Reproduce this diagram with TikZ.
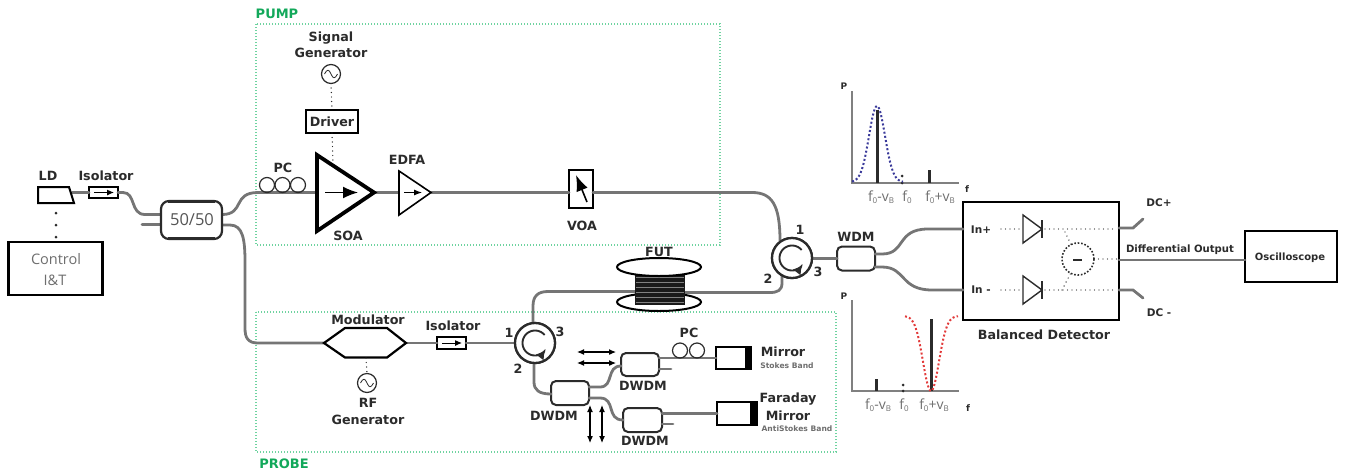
\documentclass[tikz,border=0pt]{standalone}
\usepackage{fontspec}
\setmainfont{DejaVu Sans}
\newfontfamily\lightfont{Open Sans}
\usetikzlibrary{arrows.meta,calc}
\definecolor{ink}{HTML}{2B2B2B}
\definecolor{fibre}{HTML}{757575}
\definecolor{greenbox}{HTML}{6FD3A0}
\definecolor{greenlab}{HTML}{12A85A}
\definecolor{axisgray}{HTML}{808080}
\definecolor{labgray}{HTML}{6E6E6E}
\definecolor{bluedots}{HTML}{3A3A9A}
\definecolor{reddots}{HTML}{E23A3A}
\newcommand{\sbs}[1]{\raisebox{-.35ex}{\fontsize{8}{8}\selectfont #1}}
\tikzset{
  x=1pt,y=-1pt,
  fib/.style={draw=fibre,line width=2.8pt,line cap=round},
  lab/.style={font=\bfseries\fontsize{12.7}{15}\selectfont,text=ink,inner sep=0pt,align=center},
  tinylab/.style={font=\bfseries\fontsize{7.6}{8}\selectfont,text=labgray,inner sep=0pt},
  grouplab/.style={font=\bfseries\fontsize{13}{14}\selectfont,text=greenlab,inner sep=0pt},
  grp/.style={draw=greenbox,line width=1.2pt,dash pattern=on 1.2pt off 1.8pt},
  box/.style={draw=black,line width=2.3pt,fill=white,inner sep=0pt,outer sep=0pt,rectangle},
  isobox/.style={box,minimum width=29pt,minimum height=11.5pt},
  coupler/.style={draw=ink,line width=2pt,fill=white,rounded corners=5pt,inner sep=0pt,outer sep=0pt,rectangle,minimum width=38pt,minimum height=24pt},
  pcloop/.style={circle,draw=ink,line width=1.2pt,inner sep=0pt,outer sep=0pt,minimum size=15pt},
  gen/.style={circle,draw=ink,line width=1.2pt,inner sep=0pt,outer sep=0pt,minimum size=19pt,fill=white},
  circulator/.style={circle,draw=ink,line width=2.3pt,fill=white,inner sep=0pt,outer sep=0pt,minimum size=40pt},
  ctrl/.style={draw=ink,line width=1.4pt,line cap=round,dash pattern=on 0pt off 4.5pt},
  biarrow/.style={draw=black,line width=1.1pt,{Latex[length=7pt,width=6pt]}-{Latex[length=7pt,width=6pt]}},
  axisline/.style={draw=axisgray,line width=1.5pt},
  tick/.style={draw=ink,line width=3pt},
  freq/.style={font=\lightfont\fontsize{14}{15}\selectfont,text=labgray,inner sep=0pt},
  axlab/.style={lab,font=\bfseries\fontsize{9}{10}\selectfont},
}
\begin{document}
\begin{tikzpicture}
\useasboundingbox (0,0) rectangle (1346,472);
% group frames
\node[grouplab] (pumplab) at (277,14) {PUMP};
\node[grouplab] (probelab) at (284,464) {PROBE};
\draw[grp] (256,24) rectangle (720,245);
\draw[grp] (256,312) rectangle (836,452);

% source side nodes
\node[isobox] (iso1) at (103.5,192.5) {};
\node[inner sep=0pt,outer sep=0pt,minimum width=61pt,minimum height=38pt] (split) at (191.5,220) {};
\coordinate (ldout) at (72,192.5);
\coordinate (splitA) at (161,214.5);
\coordinate (splitB) at (161,224.5);
\coordinate (stubB) at (142,224.5);
\coordinate (splitC) at (222,214.5);
\coordinate (splitD) at (222,225);

% pump components
\coordinate (soain) at (317,192.5);
\coordinate (soaout) at (374,192.5);
\coordinate (edfain) at (399,192.5);
\coordinate (edfaout) at (431,192.5);
\node[box,minimum width=24pt,minimum height=38pt] (voa) at (581,189) {};
\node[circulator] (circR) at (792,258) {};
\node[circulator] (circL) at (535,343) {};
\node[coupler] (wdm) at (856,258.5) {};
\node[coupler,minimum height=23pt] (d2) at (640,364.5) {};
\node[coupler] (d1) at (570,393) {};
\node[coupler,minimum width=39pt] (d3) at (642.5,420) {};
\node[box,minimum width=35pt,minimum height=22pt] (mir1) at (733.5,358) {};
\node[box,minimum width=40pt,minimum height=23pt] (mir2) at (737,413.5) {};
\node[isobox] (iso2) at (451.5,343) {};
\coordinate (modin) at (324,343);
\coordinate (modout) at (406,343);
\node[box,minimum width=156pt,minimum height=118pt] (det) at (1041,261) {};
\node[box,minimum width=92pt,minimum height=51pt] (osc) at (1291,256.5) {};
\coordinate (dcpB) at (1133,228);
\coordinate (dcpE) at (1143,219);
\coordinate (dcmB) at (1133,290);
\coordinate (dcmE) at (1143,298);
\coordinate (futL) at (636,291.5);
\coordinate (futR) at (684,292.5);

% fibres
\draw[fib] (ldout) -- (iso1.west);
\draw[fib] (iso1.east) -- (123,192.5) .. controls (136,192.5) and (130,214.5) .. (145,214.5) -- (splitA);
\draw[fib] (stubB) -- (splitB);
\draw[fib] (splitC) .. controls (245,214.5) and (232,192.5) .. (258,192.5) -- (soain);
\draw[fib] (splitD) -- (230,225) .. controls (243,225) and (245,240) .. (245,262) -- (245,328) .. controls (245,338) and (248,343) .. (258,343) -- (modin);
\draw[fib] (soaout) -- (edfain);
\draw[fib] (edfaout) -- (voa.west |- 0,192.5);
\draw[fib] (voa.east |- 0,192.5) -- (752,192.5) .. controls (772,192.5) and (780,205) .. (780,241);
\draw[fib] (circR.east |- wdm.west) -- (wdm.west);
\draw[fib] (782,275) -- (782,283) .. controls (782,290) and (778,292.5) .. (770,292.5) -- (futR);
\draw[fib] (futL) -- (548,291.5) .. controls (538,291.5) and (533,296) .. (533,306) -- (533,323);
\draw[fib] (modout) -- (iso2.west);
\draw[fib] (iso2.east) -- (circL.west);
\draw[fib] (534,363) -- (534,382) .. controls (534,390) and (539,394) .. (551,394);
\draw[fib] (d1.east |- 0,387) -- (600,387) .. controls (614,387) and (606,366) .. (621,366);
\draw[fib] (d1.east |- 0,398) -- (600,398) .. controls (616,398) and (606,420) .. (623,420);
\draw[fib] (d2.east |- 0,358) -- (mir1.west);
\draw[fib] (d2.east |- 0,369) -- (671,369);
\draw[fib] (d3.east |- mir2.west) -- (mir2.west);
\draw[fib] (d3.east |- 0,424) -- (673,424);
\draw[fib] (875,254) -- (882,254) .. controls (906,254) and (896,229) .. (928,229) -- (det.west |- 0,229);
\draw[fib] (875,267) -- (882,267) .. controls (906,267) and (900,290) .. (932,290) -- (det.west |- 0,290);
\draw[fib] (det.east |- 0,228) -- (dcpB) -- (dcpE);
\draw[fib] (det.east |- 0,290) -- (dcmB) -- (dcmE);
\draw[fib] (det.east |- 0,260) -- (osc.west |- 0,260);

% LD and control
\node[lab] (ldlab) at (48,176) {LD};
\draw[draw=black,line width=2pt,fill=white] (38,187) -- (69,187) -- (74,203) -- (38,203) -- cycle;
\node[box,minimum width=94pt,minimum height=53pt] (control) at (55.5,268.5) {};
\node[font=\lightfont\fontsize{14.5}{16}\selectfont,text=labgray,inner sep=0pt] (controllab) at (56,259) {Control};
\node[font=\lightfont\fontsize{14.5}{16}\selectfont,text=labgray,inner sep=0pt] (itlab) at (55,280) {I\&T};
\draw[ink,line width=3pt,line cap=round,dash pattern=on 0pt off 12pt] (56,213) -- (56,238);
\node[lab] (isolab1) at (106,176) {Isolator};
\draw[black,line width=1pt,-{Latex[length=7pt,width=6pt]}] (94,192.5) -- (114,192.5);

% 50/50
\draw[draw=ink,line width=2.2pt,fill=white,rounded corners=8pt] (split.south west) rectangle (split.north east);
\draw[ink,line width=3.4pt] (168,201.5) -- (215,201.5) (168,238.5) -- (215,238.5);
\node[font=\lightfont\fontsize{16.5}{18}\selectfont,text=ink!80,inner sep=0pt] (splitlab) at (192,220) {50/50};

% pump
\node[lab] (pclab1) at (283,168) {PC};
\node[pcloop] (pc1a) at (267,185) {};
\node[pcloop] (pc1b) at (282.5,185) {};
\node[pcloop] (pc1c) at (298,185) {};
\node[lab] (siglab) at (331,45) {Signal\\[1pt]Generator};
\node[gen] (siggen) at (331,74) {};
\draw[ink,line width=.8pt] (324.5,74) .. controls (327,69) and (329,69) .. (331,74) .. controls (333,79) and (335,79) .. (337.5,74);
\node[box,minimum width=52pt,minimum height=23pt] (driver) at (332,121.5) {};
\node[lab] (driverlab) at (332,121.5) {Driver};
\coordinate (soatop) at (333,163);
\draw[ctrl] (siggen.south) -- (driver.north);
\draw[ctrl] (driver.south) -- (soatop);
\draw[draw=black,line width=3.8pt,miter limit=10,fill=white] (317,155) -- (317,231) -- (soaout) -- cycle;
\draw[black,line width=1.6pt,-{Latex[length=15pt,width=12pt]}] (325,192.5) -- (358,192.5);
\node[lab] (soalab) at (348,236) {SOA};
\draw[draw=black,line width=1.6pt,fill=white] (399,171) -- (399,215) -- (edfaout) -- cycle;
\draw[black,line width=1pt,-{Latex[length=8pt,width=6pt]}] (404,192.5) -- (422,192.5);
\node[lab] (edfalab) at (407,160) {EDFA};
\draw[black,line width=1.6pt,-{Latex[length=16pt,width=12pt]}] (587,202) -- (576,175);
\node[lab] (voalab) at (582,226) {VOA};

% FUT
\node[lab] (futlab) at (659,252) {FUT};
\draw[draw=black,line width=2pt,fill=white] (659,302) ellipse (42 and 9);
\fill[black!90] (635,270) rectangle (685,305);
\foreach \yy in {277,282,287,292,297,302}{\draw[gray,line width=.6pt] (636,\yy) -- (684,\yy);}
\draw[draw=black,line width=2pt,fill=white] (659,267) ellipse (42 and 9);

% circulator rings and arrows
\foreach \c in {circR,circL}{
  \node[circulator] at (\c) {};
  \begin{scope}[shift={(\c)}]
    \draw[ink,line width=1.9pt,-{Latex[length=9pt,width=10pt]}] plot[domain=-40:-325,samples=40,smooth] (\x:12.5);
  \end{scope}
}
\node[lab] (r1) at (800,230) {1};
\node[lab] (r2) at (768,279) {2};
\node[lab] (r3) at (818,272) {3};
\node[lab] (l1) at (509,333) {1};
\node[lab] (l2) at (518,369) {2};
\node[lab] (l3) at (560,332) {3};

% probe
\node[lab] (modlab) at (368,320) {Modulator};
\draw[draw=black,line width=2.2pt,fill=white] (modin) -- (345,328) -- (387,328) -- (modout) -- (387,357.5) -- (345,357.5) -- cycle;
\coordinate (modbot) at (366,358);
\node[gen] (rfgen) at (367,383) {};
\draw[ink,line width=.8pt] (360.5,383) .. controls (363,378) and (365,378) .. (367,383) .. controls (369,388) and (371,388) .. (373.5,383);
\draw[ctrl] (modbot) -- (rfgen.north);
\node[lab] (rflab) at (368,411) {RF\\[2pt]Generator};
\node[lab] (isolab2) at (453,326) {Isolator};
\draw[black,line width=1pt,-{Latex[length=7pt,width=6pt]}] (442,343) -- (462,343);

\node[lab] (d1lab) at (554,416) {DWDM};
\node[lab] (d2lab) at (643,386) {DWDM};
\node[lab] (d3lab) at (645,441) {DWDM};
\coordinate (ha1) at (577,352); \coordinate (hb1) at (616,352);
\coordinate (ha2) at (577,363); \coordinate (hb2) at (616,363);
\coordinate (va1) at (590,405); \coordinate (vb1) at (590,443);
\coordinate (va2) at (602,405); \coordinate (vb2) at (602,443);
\draw[biarrow] (ha1) -- (hb1);
\draw[biarrow] (ha2) -- (hb2);
\draw[biarrow] (va1) -- (vb1);
\draw[biarrow] (va2) -- (vb2);
\node[lab] (pclab2) at (689,333) {PC};
\node[pcloop] (pc2a) at (680,350.5) {};
\node[pcloop] (pc2b) at (697,350.5) {};
\fill[black] (745,347) rectangle (751,369);
\fill[black] (750,402) rectangle (757,425);
\node[lab] (mirlab1) at (783,352) {Mirror};
\node[tinylab] (stokes) at (787,366) {Stokes Band};
\node[lab] (farlab) at (788,399) {Faraday};
\node[lab] (mirlab2) at (788,416) {Mirror};
\node[tinylab] (antistokes) at (797,429) {AntiStokes Band};
\node[lab] (wdmlab) at (856,237) {WDM};

% detector internals
\node[lab,font=\bfseries\fontsize{10.5}{12}\selectfont] (inp) at (981,230) {In+};
\node[lab,font=\bfseries\fontsize{10.5}{12}\selectfont] (inm) at (981,290) {In -};
\draw[ctrl] (1001,229) -- (1022,229);
\draw[ctrl] (1001,290) -- (1022,290);
\draw[draw=ink,line width=1.4pt] (1023,215) -- (1023,243) -- (1042,229) -- cycle;
\draw[draw=ink,line width=1.4pt] (1023,276) -- (1023,304) -- (1042,290) -- cycle;
\draw[ink,line width=1.4pt] (1042,220) -- (1042,238) (1042,281) -- (1042,299);
\draw[ctrl] (1045,229) -- (1115,229);
\draw[ctrl] (1045,290) -- (1115,290);
\node[circle,draw=ink,line width=1.6pt,dash pattern=on 1.6pt off 1.8pt,minimum size=32pt,inner sep=0pt,outer sep=0pt] (sub) at (1078,259) {};
\draw[ink,line width=2.6pt] (1073,260) -- (1082,260);
\draw[ctrl] (1065,232) -- (sub);
\draw[ctrl] (1062,290) -- (sub);
\draw[ctrl] (sub.east) -- (det.east |- sub.east);
\node[lab] (detlab) at (1044,335) {Balanced Detector};
\node[lab,font=\bfseries\fontsize{10.5}{12}\selectfont] (dcp) at (1159,203) {DC+};
\node[lab,font=\bfseries\fontsize{10.5}{12}\selectfont] (dcm) at (1159,313) {DC -};
\node[lab,font=\bfseries\fontsize{10.1}{12}\selectfont] (difflab) at (1180,250) {Differential Output};
\node[lab,font=\bfseries\fontsize{10}{12}\selectfont] (osclab) at (1290,258) {Oscilloscope};

% plot 1
\node[axlab] (p1) at (844,86) {P};
\node[axlab] (f1) at (967,189) {f};
\draw[axisline] (852,91) -- (852,183) -- (959,183);
\draw[tick] (877,110) -- (877,183);
\draw[tick] (929,170) -- (929,183);
\fill[ink] (902,176) circle (1.5) (902,183) circle (1.5);
\draw[draw=bluedots,line width=2pt,dash pattern=on 2pt off 2.2pt,domain=852:903,samples=50,smooth]
  plot (\x,{182-76*exp(-((\x-877)*(\x-877))/(2*64))});
\node[freq] (l1a) at (881,197) {f\sbs{0}-v\sbs{B}};
\node[freq] (l1b) at (907,197) {f\sbs{0}};
\node[freq] (l1c) at (940,197) {f\sbs{0}+v\sbs{B}};

% plot 2
\node[axlab] (p2) at (844,296) {P};
\node[axlab] (f2) at (968,408) {f};
\draw[axisline] (852,300) -- (852,391) -- (959,391);
\draw[tick] (876,379) -- (876,391);
\draw[tick] (931,319) -- (931,391);
\fill[ink] (903,385) circle (1.5) (903,391) circle (1.5);
\draw[draw=reddots,line width=2pt,dash pattern=on 2pt off 2.2pt,domain=905:958,samples=50,smooth]
  plot (\x,{391-75*(1-exp(-((\x-931)*(\x-931))/(2*64)))});
\node[freq] (l2a) at (878,405) {f\sbs{0}-v\sbs{B}};
\node[freq] (l2b) at (904,405) {f\sbs{0}};
\node[freq] (l2c) at (934,405) {f\sbs{0}+v\sbs{B}};
\end{tikzpicture}
\end{document}
